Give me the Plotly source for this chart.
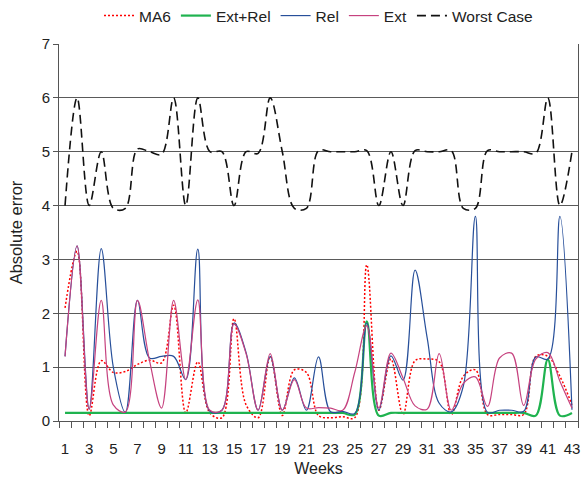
import plotly.graph_objects as go

weeks = list(range(1, 44))

ma6 = [2.1, 3.15, 0.1, 1.12, 0.9, 0.92, 1.05, 1.13, 1.08, 2.15,
       0.15, 1.1, 0.15, 0.06, 1.9, 0.3, 0.06, 1.2, 0.1, 0.95,
       0.9, 0.1, 0.06, 0.08, 0.06, 2.9, 0.2, 1.15, 0.12, 1.12,
       1.15, 1.1, 0.12, 0.83, 0.95, 0.12, 0.12, 0.12, 0.12, 1.2,
       1.2, 0.83, 0.3]

ext_rel = [0.15] * 24 + [0.12, 1.85, 0.1, 0.15] + [0.15] * 11 + [0.1, 1.14, 0.1, 0.15]

rel = [1.2, 3.25, 0.22, 3.2, 1.0, 0.16, 2.24, 1.17, 1.2, 1.2,
       0.77, 3.19, 0.18, 0.2, 1.82, 1.27, 0.2, 1.2, 0.2, 0.8,
       0.2, 1.19, 0.17, 0.18, 0.14, 1.82, 0.2, 1.21, 0.76, 2.8,
       1.55, 0.33, 0.17, 0.65, 3.8, 0.16, 0.2, 0.2, 0.18, 1.19,
       1.15, 3.8, 0.21]

ext = [1.2, 3.25, 0.22, 2.24, 0.3, 0.17, 2.24, 1.12, 0.24, 2.24,
       0.77, 2.25, 0.2, 0.2, 1.8, 1.25, 0.2, 1.25, 0.2, 0.77,
       0.24, 0.25, 0.24, 0.2, 0.9, 1.77, 0.24, 1.26, 0.8, 0.28,
       0.22, 1.25, 0.2, 0.7, 0.82, 0.27, 1.17, 1.26, 0.29, 1.15,
       1.27, 0.74, 0.24]

worst = [4.0, 6.0, 4.0, 5.0, 3.95, 3.95, 5.05, 5.0, 4.95, 6.0,
         4.0, 6.0, 5.0, 5.0, 4.0, 5.0, 4.97, 6.0, 5.0, 3.95,
         3.95, 5.02, 5.0, 5.0, 5.0, 5.02, 4.0, 5.0, 4.0, 5.02,
         5.0, 5.0, 5.02, 3.95, 3.95, 5.02, 5.0, 5.0, 5.0, 4.97,
         6.0, 4.0, 5.0]

tick_weeks = list(range(1, 44, 2))
tick_labels = [str(w) for w in tick_weeks]

FONT = "Liberation Sans, Arial, sans-serif"

fig = go.Figure()
fig.add_trace(go.Scatter(x=weeks, y=ma6, name="MA6", mode="lines",
                         line=dict(color="#ff0000", width=1.5, dash="2px,2px", shape="spline")))
fig.add_trace(go.Scatter(x=weeks, y=ext_rel, name="Ext+Rel", mode="lines",
                         line=dict(color="#1fb34f", width=2.2, shape="spline")))
fig.add_trace(go.Scatter(x=weeks, y=rel, name="Rel", mode="lines",
                         line=dict(color="#274f9a", width=1.2, shape="spline")))
fig.add_trace(go.Scatter(x=weeks, y=ext, name="Ext", mode="lines",
                         line=dict(color="#c6427f", width=1.2, shape="spline")))
fig.add_trace(go.Scatter(x=weeks, y=worst, name="Worst Case", mode="lines",
                         line=dict(color="#111111", width=1.6, dash="9px,5px", shape="spline")))

fig.update_layout(
    width=582, height=477,
    margin=dict(l=59, r=4, t=44, b=56, autoexpand=False),
    paper_bgcolor="white", plot_bgcolor="white",
    font=dict(family=FONT, size=15, color="#222222"),
    showlegend=True,
    legend=dict(orientation="h", x=0.5, xanchor="center", xref="paper",
                y=1 - 16 / 477, yref="container", yanchor="middle",
                font=dict(size=15.5), itemwidth=30, tracegroupgap=0,
                bgcolor="rgba(0,0,0,0)"),
    xaxis=dict(range=[0.5, 43.5], tickmode="array", tickvals=tick_weeks, ticktext=tick_labels,
               ticks="", showgrid=False, zeroline=False, automargin=False,
               showline=True, linecolor="#555555", linewidth=1,
               ticklabelstandoff=14,
               minor=dict(tick0=0.5, dtick=1, ticks="outside", ticklen=6, tickcolor="#555555", showgrid=False),
               title=dict(text="Weeks", font=dict(size=16), standoff=6),
               tickfont=dict(size=15)),
    yaxis=dict(range=[0, 7], dtick=1, ticks="outside", ticklen=5, tickcolor="#555555",
               showgrid=True, gridcolor="#5a5a5a", gridwidth=1, zeroline=False, automargin=False,
               showline=True, linecolor="#555555", linewidth=1, mirror=True,
               title=dict(text="Absolute error", font=dict(size=16.5), standoff=14),
               tickfont=dict(size=15)),
)

fig.write_html("out.html", config={"displayModeBar": False},
               post_script="document.body.style.margin='0';")
